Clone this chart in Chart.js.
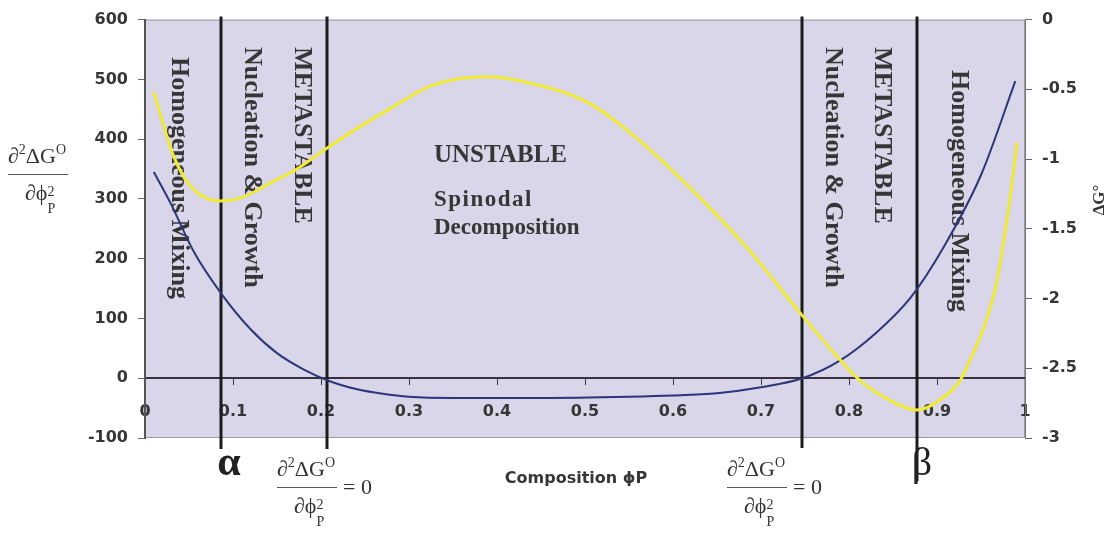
<!DOCTYPE html>
<html>
<head>
<meta charset="utf-8">
<script src="https://cdn.jsdelivr.net/npm/chart.js@4.4.0/dist/chart.umd.min.js"></script>
<style>
  html, body { margin: 0; padding: 0; background: #fff; }
  #wrap { width: 1116px; height: 550px; }
</style>
</head>
<body>
<div id="wrap"><canvas id="phaseChart" width="1116" height="550"></canvas></div>
<script>
// second derivative of the free energy (left axis)
const phiCurv = [0.01, 0.03, 0.055, 0.0875, 0.12, 0.15, 0.18, 0.21, 0.24, 0.27, 0.30, 0.35, 0.45, 0.55, 0.60, 0.65, 0.70, 0.747, 0.79, 0.83, 0.87, 0.907, 0.95, 0.989]
const curvature = [345, 290, 213, 140, 82, 42, 15, -5, -18, -26, -31, -33, -33, -31, -29, -25, -15, 0, 30, 75, 135, 218, 340, 497]

// free energy of mixing (right axis)
const phiFree = [0.01, 0.032, 0.05, 0.085, 0.108, 0.146, 0.173, 0.205, 0.241, 0.278, 0.327, 0.389, 0.441, 0.502, 0.555, 0.631, 0.6875, 0.744, 0.79, 0.813, 0.847, 0.877, 0.907, 0.926, 0.9375, 0.952, 0.968, 0.983, 0.991]
const freeEnergy = [-0.52, -0.97, -1.18, -1.30, -1.28, -1.16, -1.07, -0.93, -0.78, -0.64, -0.47, -0.41, -0.46, -0.59, -0.83, -1.28, -1.66, -2.10, -2.44, -2.59, -2.73, -2.80, -2.71, -2.59, -2.44, -2.23, -1.88, -1.28, -0.88]

// binodal (alpha, beta) and spinodal compositions
const boundaries = [0.086, 0.207, 0.747, 0.877]

const textColor = '#363636'
const serif = '"Liberation Serif", "Times New Roman", serif'
const sans = '"DejaVu Sans", sans-serif'

function toPoints(xs, ys) {
  return xs.map((x, i) => ({ x: x, y: ys[i] }))
}

function plainNumber(value) {
  return String(Number(value.toFixed(2)))
}

function verticalText(ctx, text, x, y) {
  ctx.save()
  ctx.translate(x, y)
  ctx.rotate(Math.PI / 2)
  ctx.textAlign = 'left'
  ctx.textBaseline = 'alphabetic'
  ctx.fillText(text, 0, 0)
  ctx.restore()
}

function drawFraction(ctx, x, y, withEquals) {
  ctx.save()
  ctx.fillStyle = '#333'
  ctx.strokeStyle = '#555'
  ctx.textAlign = 'left'
  ctx.textBaseline = 'alphabetic'
  const big = '22px ' + serif
  const small = '14px ' + serif
  let cx = x
  ctx.font = big; ctx.fillText('\u2202', cx, y - 11); cx += ctx.measureText('\u2202').width
  ctx.font = small; ctx.fillText('2', cx, y - 20); cx += ctx.measureText('2').width
  ctx.font = big; ctx.fillText('\u0394G', cx, y - 11); cx += ctx.measureText('\u0394G').width
  ctx.font = small; ctx.fillText('O', cx, y - 20); cx += ctx.measureText('O').width
  const w = cx - x + 2
  ctx.lineWidth = 1
  ctx.beginPath(); ctx.moveTo(x, y + 0.5); ctx.lineTo(x + w, y + 0.5); ctx.stroke()
  ctx.font = big
  let dx = x + 17
  ctx.fillText('\u2202\u03d5', dx, y + 26); dx += ctx.measureText('\u2202\u03d5').width
  ctx.font = small
  ctx.fillText('2', dx, y + 22)
  ctx.fillText('P', dx, y + 39)
  if (withEquals) {
    ctx.font = big
    ctx.fillText('= 0', x + w + 6, y + 7)
  }
  ctx.restore()
}

const decorations = {
  id: 'decorations',
  beforeDraw(chart) {
    const { ctx, chartArea: a } = chart
    ctx.save()
    ctx.fillStyle = 'rgb(216,214,232)'
    ctx.fillRect(a.left, a.top, a.right - a.left, a.bottom - a.top)
    ctx.strokeStyle = '#9a98a8'
    ctx.lineWidth = 1
    ctx.strokeRect(a.left + 0.5, a.top + 0.5, a.right - a.left - 1, a.bottom - a.top - 1)
    ctx.restore()
  },
  beforeDatasetsDraw(chart) {
    const { ctx, chartArea: a, scales } = chart
    ctx.save()
    // phase boundary lines
    const ends = [449, 449, 448, 481]
    ctx.strokeStyle = '#1c1c1c'
    ctx.lineWidth = 3
    boundaries.forEach((b, i) => {
      const px = Math.round(scales.x.getPixelForValue(b))
      ctx.beginPath()
      ctx.moveTo(px, a.top - 3)
      ctx.lineTo(px, ends[i])
      ctx.stroke()
    })

    // region names
    ctx.fillStyle = textColor
    ctx.font = 'bold 26px ' + serif
    verticalText(ctx, 'Homogeneous Mixing', 172, 57)
    verticalText(ctx, 'Nucleation & Growth', 245, 47)
    verticalText(ctx, 'METASTABLE', 295, 47)
    verticalText(ctx, 'Nucleation & Growth', 826, 47)
    verticalText(ctx, 'METASTABLE', 875, 47)
    verticalText(ctx, 'Homogeneous Mixing', 952, 70)

    ctx.textAlign = 'left'
    ctx.textBaseline = 'alphabetic'
    ctx.font = 'bold 25px ' + serif
    ctx.fillText('UNSTABLE', 434, 162)
    ctx.font = 'bold 23px ' + serif
    ctx.letterSpacing = '1.5px'
    ctx.fillText('Spinodal', 434, 206)
    ctx.letterSpacing = '0px'
    ctx.fillText('Decomposition', 434, 234)
    ctx.restore()
  },
  afterDraw(chart) {
    const { ctx } = chart
    ctx.save()
    // left axis title
    drawFraction(ctx, 8, 174, false)
    // bottom fractions at the spinodal points
    drawFraction(ctx, 277, 487, true)
    drawFraction(ctx, 727, 487, true)

    ctx.fillStyle = '#222'
    ctx.textAlign = 'center'
    ctx.textBaseline = 'alphabetic'
    ctx.font = 'bold 42px ' + serif
    ctx.fillText('\u03b1', 229, 475)
    ctx.font = '40px ' + serif
    ctx.fillText('\u03b2', 922, 475)

    ctx.fillStyle = textColor
    ctx.font = 'bold 16px ' + sans
    ctx.fillText('Composition \u03d5P', 576, 483)

    // right axis title
    ctx.save()
    ctx.translate(1104, 200)
    ctx.rotate(-Math.PI / 2)
    ctx.font = 'bold 17px ' + serif
    ctx.fillText('\u0394G\u00b0', 0, 0)
    ctx.restore()
    ctx.restore()
  }
}

const tickFont = { family: sans, size: 16, weight: 'bold' }

new Chart(document.getElementById('phaseChart'), {
  type: 'scatter',
  data: {
    datasets: [{
      label: 'free energy',
      data: toPoints(phiFree, freeEnergy),
      yAxisID: 'y1',
      showLine: true,
      borderColor: 'rgb(240,234,52)',
      borderWidth: 3,
      pointRadius: 0,
      cubicInterpolationMode: 'monotone'
    }, {
      label: 'curvature',
      data: toPoints(phiCurv, curvature),
      yAxisID: 'y',
      showLine: true,
      borderColor: 'rgb(44,54,120)',
      borderWidth: 2,
      pointRadius: 0,
      cubicInterpolationMode: 'monotone'
    }]
  },
  options: {
    responsive: false,
    animation: false,
    layout: { padding: { top: 17, bottom: 112, left: 0, right: 0 } },
    plugins: { legend: { display: false }, tooltip: { enabled: false } },
    scales: {
      x: {
        type: 'linear',
        position: { y: 0 },
        min: 0,
        max: 1,
        ticks: { stepSize: 0.1, color: textColor, font: tickFont, padding: 18, callback: plainNumber },
        grid: { drawOnChartArea: false, tickLength: 6, color: '#3a3040' },
        border: { color: '#3a3040', width: 2 }
      },
      y: {
        position: 'left',
        min: -100,
        max: 600,
        ticks: { stepSize: 100, color: textColor, font: tickFont, padding: 10, callback: plainNumber },
        grid: { drawOnChartArea: false, tickLength: 7, color: '#666' },
        border: { color: '#555', width: 2 },
        afterFit(scale) { scale.width = 145 }
      },
      y1: {
        position: 'right',
        min: -3,
        max: 0,
        ticks: { stepSize: 0.5, color: textColor, font: tickFont, padding: 10, callback: plainNumber },
        grid: { drawOnChartArea: false, tickLength: 7, color: '#666' },
        border: { color: '#777', width: 1 },
        afterFit(scale) { scale.width = 91 }
      }
    }
  },
  plugins: [decorations]
})
</script>
</body>
</html>
